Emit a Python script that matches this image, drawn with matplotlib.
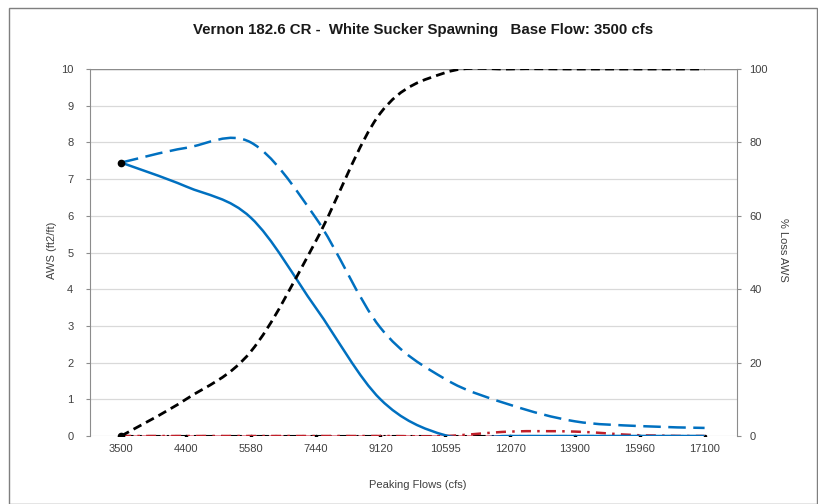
import matplotlib
matplotlib.use("Agg")
import matplotlib.pyplot as plt
import numpy as np
from matplotlib.path import Path
from matplotlib.patches import PathPatch, Rectangle

plt.rcParams['font.family'] = ['Liberation Sans', 'DejaVu Sans']

categories = ["3500", "4400", "5580", "7440", "9120", "10595", "12070", "13900", "15960", "17100"]
aws_peak = [7.45, 6.8, 5.95, 3.5, 1.0, 0.02, 0.0, 0.0, 0.0, 0.0]
aws_dashed = [7.45, 7.85, 8.0, 5.95, 2.95, 1.55, 0.85, 0.4, 0.27, 0.22]
pct_loss = [0, 10, 23, 53, 88, 99, 100, 100, 100, 100]
red_dashdot = [0, 0, 0, 0, 0, 0.0, 0.12, 0.12, 0.02, 0.0]
zero_line = [0] * 10

title = "Vernon 182.6 CR -  White Sucker Spawning   Base Flow: 3500 cfs"
xlabel = "Peaking Flows (cfs)"
ylabel_left = "AWS (ft2/ft)"
ylabel_right = "% Loss AWS"


def smooth_path(xs, ys):
    pts = np.column_stack([xs, ys]).astype(float)
    n = len(pts)
    verts = [tuple(pts[0])]
    codes = [Path.MOVETO]
    for i in range(n - 1):
        p0 = pts[i - 1] if i > 0 else pts[i]
        p1 = pts[i]
        p2 = pts[i + 1]
        p3 = pts[i + 2] if i + 2 < n else pts[i + 1]
        c1 = p1 + (p2 - p0) / 6.0
        c2 = p2 - (p3 - p1) / 6.0
        verts += [tuple(c1), tuple(c2), tuple(p2)]
        codes += [Path.CURVE4] * 3
    return Path(verts, codes)


fig = plt.figure(figsize=(8.18, 5.04), dpi=100)
W, H = 818, 504
ax = fig.add_axes([90 / W, 1 - 436 / H, (737 - 90) / W, (436 - 69) / H])
ax2 = ax.twinx()

x = np.arange(len(categories))
blue = "#0070C0"

# gridlines
ax.set_ylim(0, 10)
ax.set_xlim(-0.48, 9.5)
ax.set_yticks(range(0, 11))
ax.grid(axis='y', color='#d9d9d9', lw=0.9)
ax.set_axisbelow(True)
ax.axhline(10, color='#8c8c8c', lw=1.0, zorder=1)

# zero lines
ax.plot(x, zero_line, color='#e07080', lw=1.2, zorder=3)
ax.plot(x, zero_line, color='black', lw=1.5, ls=(0, (6, 3, 1, 3)), zorder=3)
ax.plot(x, zero_line, ls='none', marker='.', color='black', ms=3, zorder=3)
ax.add_patch(PathPatch(smooth_path(x, red_dashdot), fill=False, edgecolor='#c0202a',
                       lw=1.8, ls=(0, (4, 2.5, 1, 2.5)), zorder=3))

ax.add_patch(PathPatch(smooth_path(x, aws_peak), fill=False, edgecolor=blue, lw=1.8, zorder=4))
ax.add_patch(PathPatch(smooth_path(x, aws_dashed), fill=False, edgecolor=blue, lw=1.8,
                       ls=(0, (7, 3)), zorder=4))
ax.plot([x[0]], [aws_peak[0]], 'o', color='black', ms=4.5, zorder=6)

ax2.set_ylim(0, 100)
ax2.set_yticks(range(0, 101, 20))
ax2.add_patch(PathPatch(smooth_path(x, pct_loss), fill=False, edgecolor='black', lw=2.0,
                        ls=(0, (3.2, 1.9)), zorder=5))
ax2.plot([x[0]], [pct_loss[0]], 'o', color='black', ms=4.5, zorder=6)

ax.set_xticks(x)
ax.set_xticklabels(categories)

for a in (ax, ax2):
    for s in a.spines.values():
        s.set_visible(False)
    a.tick_params(labelsize=8, colors='#404040', length=3, width=0.8)
    a.tick_params(axis='y', color='#8c8c8c')

ax.spines['left'].set_visible(True)
ax.spines['left'].set_color('#8c8c8c')
ax2.spines['right'].set_visible(True)
ax2.spines['right'].set_color('#8c8c8c')
ax.tick_params(axis='x', length=0, pad=6)
ax.tick_params(axis='y', pad=9)
ax2.tick_params(axis='y', pad=6)

fig.text(418 / W, 1 - 485 / H, xlabel, ha='center', va='center', fontsize=8, color='#404040')
fig.text(52 / W, 1 - 250 / H, ylabel_left, ha='center', va='center', fontsize=8,
         color='#404040', rotation=90)
fig.text(783 / W, 1 - 250 / H, ylabel_right, ha='center', va='center', fontsize=8,
         color='#404040', rotation=270)
fig.text(423 / W, 1 - 30 / H, title, ha='center', va='center', fontsize=10.8,
         fontweight='bold', color='#1a1a1a')

fig.patches.append(Rectangle((9 / W, 0), (W - 10) / W, 1 - 8 / H, transform=fig.transFigure,
                             fill=False, edgecolor='#7f7f7f', lw=1.0))

fig.savefig("out.png", dpi=100)
